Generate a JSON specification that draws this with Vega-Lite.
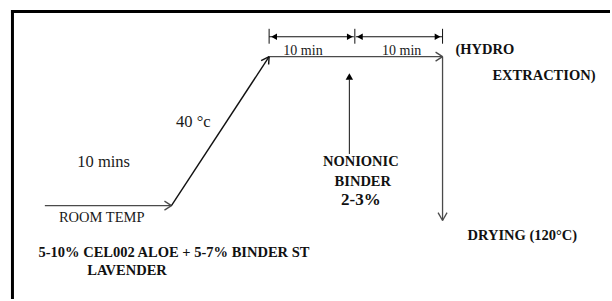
{
  "$schema": "https://vega.github.io/schema/vega-lite/v6.json",
  "width": 612,
  "height": 301,
  "padding": 0,
  "autosize": {"type": "fit", "contains": "padding"},
  "background": "white",
  "config": {"view": {"stroke": null}},
  "datasets": {
    "segs": [
      {"g": "border", "x": 11, "y": 11.5, "x2": 612, "y2": 11.5},
      {"g": "border", "x": 12.5, "y": 10, "x2": 12.5, "y2": 301},
      {"g": "gray", "x": 45, "y": 207, "x2": 172, "y2": 207},
      {"g": "gray", "x": 165, "y": 202.5, "x2": 172, "y2": 207},
      {"g": "gray", "x": 165, "y": 211.5, "x2": 172, "y2": 207},
      {"g": "black", "x": 172, "y": 207, "x2": 270, "y2": 57},
      {"g": "black", "x": 270, "y": 57, "x2": 262, "y2": 61},
      {"g": "black", "x": 270, "y": 57, "x2": 269.5, "y2": 65},
      {"g": "gray", "x": 270, "y": 57, "x2": 444, "y2": 57},
      {"g": "gray", "x": 437, "y": 52.5, "x2": 444, "y2": 57},
      {"g": "gray", "x": 437, "y": 61.5, "x2": 444, "y2": 57},
      {"g": "gray", "x": 444, "y": 57, "x2": 444, "y2": 222},
      {"g": "gray", "x": 439.5, "y": 214, "x2": 444, "y2": 222},
      {"g": "gray", "x": 448.5, "y": 214, "x2": 444, "y2": 222},
      {"g": "thin", "x": 350.5, "y": 80, "x2": 350.5, "y2": 155},
      {"g": "thin", "x": 270, "y": 37, "x2": 355, "y2": 37},
      {"g": "thin", "x": 357, "y": 37, "x2": 444, "y2": 37},
      {"g": "thin", "x": 270, "y": 29, "x2": 270, "y2": 44},
      {"g": "thin", "x": 356, "y": 29, "x2": 356, "y2": 44},
      {"g": "thin", "x": 444, "y": 29, "x2": 444, "y2": 44}
    ],
    "heads": [
      {"dir": "left", "x": 275, "y": 37},
      {"dir": "right", "x": 351, "y": 37},
      {"dir": "left", "x": 361, "y": 37},
      {"dir": "right", "x": 439, "y": 37},
      {"dir": "up", "x": 350.5, "y": 77}
    ],
    "texts": [
      {"g": "small", "x": 304, "y": 51, "label": "10 min"},
      {"g": "small", "x": 403, "y": 51, "label": "10 min"},
      {"g": "boldleft", "x": 457, "y": 50, "label": "(HYDRO"},
      {"g": "boldleft", "x": 494, "y": 77, "label": "EXTRACTION)"},
      {"g": "reg", "x": 194, "y": 123, "label": "40 °c"},
      {"g": "reg", "x": 104, "y": 163, "label": "10 mins"},
      {"g": "room", "x": 102, "y": 219.5, "label": "ROOM TEMP"},
      {"g": "bold", "x": 362, "y": 163.5, "label": "NONIONIC"},
      {"g": "bold", "x": 364, "y": 183, "label": "BINDER"},
      {"g": "boldbig", "x": 362, "y": 201, "label": "2-3%"},
      {"g": "bold", "x": 524, "y": 238, "label": "DRYING (120°C)"},
      {"g": "bottom", "x": 174.5, "y": 255, "label": "5-10% CEL002 ALOE + 5-7% BINDER ST"},
      {"g": "bottom", "x": 127.5, "y": 273, "label": "LAVENDER"}
    ]
  },
  "encoding": {
    "x": {"field": "x", "type": "quantitative", "scale": {"domain": [0, 612], "nice": false, "zero": false}, "axis": null},
    "y": {"field": "y", "type": "quantitative", "scale": {"domain": [0, 301], "nice": false, "zero": false, "reverse": true}, "axis": null}
  },
  "layer": [
    {
      "data": {"name": "segs"},
      "transform": [{"filter": "datum.g === 'border'"}],
      "mark": {"type": "rule", "color": "#000000", "strokeWidth": 3},
      "encoding": {"x2": {"field": "x2"}, "y2": {"field": "y2"}}
    },
    {
      "data": {"name": "segs"},
      "transform": [{"filter": "datum.g === 'gray'"}],
      "mark": {"type": "rule", "color": "#4a4a4a", "strokeWidth": 1.3},
      "encoding": {"x2": {"field": "x2"}, "y2": {"field": "y2"}}
    },
    {
      "data": {"name": "segs"},
      "transform": [{"filter": "datum.g === 'black'"}],
      "mark": {"type": "rule", "color": "#111111", "strokeWidth": 1.4},
      "encoding": {"x2": {"field": "x2"}, "y2": {"field": "y2"}}
    },
    {
      "data": {"name": "segs"},
      "transform": [{"filter": "datum.g === 'thin'"}],
      "mark": {"type": "rule", "color": "#111111", "strokeWidth": 1},
      "encoding": {"x2": {"field": "x2"}, "y2": {"field": "y2"}}
    },
    {
      "data": {"name": "heads"},
      "transform": [{"filter": "datum.dir === 'left'"}],
      "mark": {"type": "point", "shape": "triangle-left", "filled": true, "color": "#000000", "size": 45, "opacity": 1}
    },
    {
      "data": {"name": "heads"},
      "transform": [{"filter": "datum.dir === 'right'"}],
      "mark": {"type": "point", "shape": "triangle-right", "filled": true, "color": "#000000", "size": 45, "opacity": 1}
    },
    {
      "data": {"name": "heads"},
      "transform": [{"filter": "datum.dir === 'up'"}],
      "mark": {"type": "point", "shape": "triangle-up", "filled": true, "color": "#000000", "size": 55, "opacity": 1}
    },
    {
      "data": {"name": "texts"},
      "transform": [{"filter": "datum.g === 'small'"}],
      "mark": {"type": "text", "font": "Liberation Serif", "fontSize": 14, "color": "#1a1a1a", "align": "center", "baseline": "middle"},
      "encoding": {"text": {"field": "label"}}
    },
    {
      "data": {"name": "texts"},
      "transform": [{"filter": "datum.g === 'reg'"}],
      "mark": {"type": "text", "font": "Liberation Serif", "fontSize": 16.5, "color": "#1a1a1a", "align": "center", "baseline": "middle"},
      "encoding": {"text": {"field": "label"}}
    },
    {
      "data": {"name": "texts"},
      "transform": [{"filter": "datum.g === 'room'"}],
      "mark": {"type": "text", "font": "Liberation Serif", "fontSize": 14.5, "color": "#1a1a1a", "align": "center", "baseline": "middle", "letterSpacing": -1},
      "encoding": {"text": {"field": "label"}}
    },
    {
      "data": {"name": "texts"},
      "transform": [{"filter": "datum.g === 'bold'"}],
      "mark": {"type": "text", "font": "Liberation Serif", "fontSize": 14.5, "fontWeight": "bold", "color": "#111111", "align": "center", "baseline": "middle", "letterSpacing": -0.5},
      "encoding": {"text": {"field": "label"}}
    },
    {
      "data": {"name": "texts"},
      "transform": [{"filter": "datum.g === 'boldleft'"}],
      "mark": {"type": "text", "font": "Liberation Serif", "fontSize": 14.5, "fontWeight": "bold", "color": "#111111", "align": "left", "baseline": "middle", "letterSpacing": -0.5},
      "encoding": {"text": {"field": "label"}}
    },
    {
      "data": {"name": "texts"},
      "transform": [{"filter": "datum.g === 'boldbig'"}],
      "mark": {"type": "text", "font": "Liberation Serif", "fontSize": 17, "fontWeight": "bold", "color": "#111111", "align": "center", "baseline": "middle"},
      "encoding": {"text": {"field": "label"}}
    },
    {
      "data": {"name": "texts"},
      "transform": [{"filter": "datum.g === 'bottom'"}],
      "mark": {"type": "text", "font": "Liberation Serif", "fontSize": 14.5, "fontWeight": "bold", "color": "#111111", "align": "center", "baseline": "middle", "letterSpacing": -0.5},
      "encoding": {"text": {"field": "label"}}
    }
  ]
}
